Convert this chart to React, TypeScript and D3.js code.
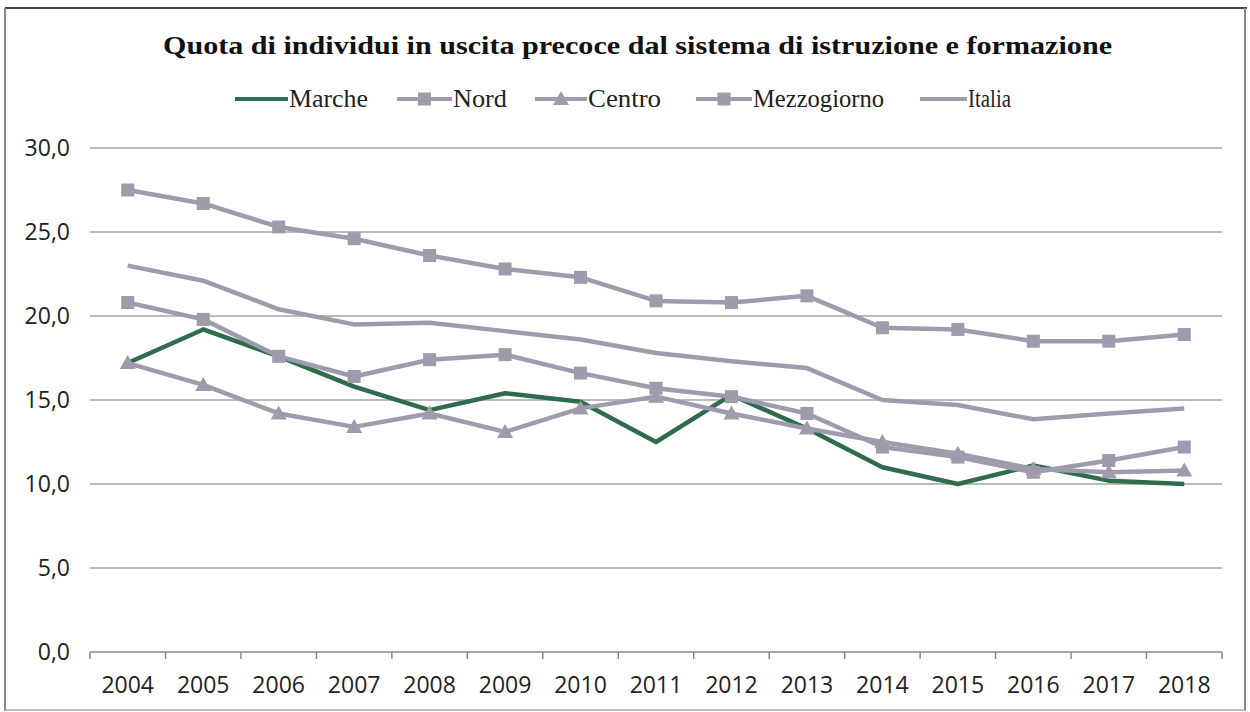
import React from "react";
import * as d3 from "d3";

const years = ["2004","2005","2006","2007","2008","2009","2010","2011","2012","2013","2014","2015","2016","2017","2018"];
const marche = [17.2, 19.2, 17.6, 15.8, 14.4, 15.4, 14.9, 12.5, 15.3, 13.3, 11.0, 10.0, 11.1, 10.2, 10.0];
const nord = [20.8, 19.8, 17.6, 16.4, 17.4, 17.7, 16.6, 15.7, 15.2, 14.2, 12.2, 11.6, 10.7, 11.4, 12.2];
const centro = [17.2, 15.9, 14.2, 13.4, 14.2, 13.1, 14.5, 15.2, 14.2, 13.3, 12.5, 11.8, 10.9, 10.7, 10.8];
const mezzogiorno = [27.5, 26.7, 25.3, 24.6, 23.6, 22.8, 22.3, 20.9, 20.8, 21.2, 19.3, 19.2, 18.5, 18.5, 18.9];
const italia = [23.0, 22.1, 20.4, 19.5, 19.6, 19.1, 18.6, 17.8, 17.3, 16.9, 15.0, 14.7, 13.85, 14.2, 14.5];
const yTicks = [0, 5, 10, 15, 20, 25, 30];
const title = "Quota di individui in uscita precoce dal sistema di istruzione e formazione";

const GREEN = "#2f6b4f";
const GRAY = "#9e9cac";

type Series = { name: string; values: number[]; color: string; marker: "none" | "square" | "triangle"; legX: number; legW: number; textW: number };
const series: Series[] = [
  { name: "Marche", values: marche, color: GREEN, marker: "none", legX: 235, legW: 53, textW: 79 },
  { name: "Nord", values: nord, color: GRAY, marker: "square", legX: 397, legW: 55, textW: 54 },
  { name: "Centro", values: centro, color: GRAY, marker: "triangle", legX: 535, legW: 52, textW: 73 },
  { name: "Mezzogiorno", values: mezzogiorno, color: GRAY, marker: "square", legX: 696, legW: 56, textW: 131 },
  { name: "Italia", values: italia, color: GRAY, marker: "none", legX: 920, legW: 47, textW: 43 },
];

function Marker({ kind, x, y, color }: { kind: string; x: number; y: number; color: string }) {
  if (kind === "square") return <rect x={x - 6.5} y={y - 6.5} width={13} height={13} fill={color} />;
  if (kind === "triangle") {
    const p = d3.path();
    p.moveTo(x, y - 8); p.lineTo(x + 8, y + 6); p.lineTo(x - 8, y + 6); p.closePath();
    return <path d={p.toString()} fill={color} />;
  }
  return null;
}

export default function App() {
  const W = 1250, H = 712;
  const left = 90, right = 1222, top = 148, bottom = 652;
  const x = d3.scaleBand<string>().domain(years).range([left, right]);
  const y = d3.scaleLinear().domain([0, 30]).range([bottom, top]);
  const cx = (yr: string) => (x(yr) as number) + x.bandwidth() / 2;
  const line = d3.line<number>().x((_, i) => cx(years[i])).y((v) => y(v));
  const boundaries = years.map((yr) => x(yr) as number).concat([right]);
  const sans = "'Open Sans', sans-serif";
  const serif = "'Liberation Serif', serif";

  return (
    <svg width={W} height={H} style={{ position: "absolute", left: 0, top: 0, background: "#fff" }}>
      <rect x={0} y={0} width={W} height={H} fill="#fff" />
      {/* frame */}
      <line x1={5} y1={8} x2={1247} y2={8} stroke="#444" strokeWidth={2} />
      <line x1={5} y1={8} x2={5} y2={711} stroke="#888" strokeWidth={2} />
      <line x1={1245} y1={8} x2={1245} y2={711} stroke="#888" strokeWidth={2} />
      <line x1={5} y1={710} x2={1245} y2={710} stroke="#aaa" strokeWidth={1.5} />

      <text x={163} y={54} fontFamily={serif} fontWeight="bold" fontSize={25} fill="#111" textLength={949} lengthAdjust="spacingAndGlyphs">{title}</text>

      {/* legend */}
      {series.map((s) => (
        <g key={s.name}>
          <line x1={s.legX} x2={s.legX + s.legW} y1={99} y2={99} stroke={s.color} strokeWidth={4} />
          <Marker kind={s.marker} x={s.legX + s.legW / 2} y={99} color={s.color} />
          <text x={s.legX + s.legW + 1} y={107} fontFamily={serif} fontSize={25} fill="#222" textLength={s.textW} lengthAdjust="spacingAndGlyphs">{s.name}</text>
        </g>
      ))}

      {/* gridlines & y labels */}
      {yTicks.map((t) => (
        <g key={t}>
          <line x1={left} x2={right} y1={y(t)} y2={y(t)} stroke={t === 0 ? "#8a8a8a" : "#a4a4a4"} strokeWidth={1.5} />
          <text x={70} y={y(t) + 8} textAnchor="end" fontFamily={sans} fontSize={23} fill="#222">{d3.format(".1f")(t).replace(".", ",")}</text>
        </g>
      ))}

      {/* x ticks */}
      {boundaries.map((bx, i) => (
        <line key={i} x1={bx} x2={bx} y1={bottom} y2={bottom + 7} stroke="#8a8a8a" strokeWidth={1.5} />
      ))}
      {years.map((yr) => (
        <text key={yr} x={cx(yr)} y={693} textAnchor="middle" fontFamily={sans} fontSize={23} fill="#222">{yr}</text>
      ))}

      {/* series */}
      {series.map((s) => (
        <g key={s.name}>
          <path d={line(s.values) as string} fill="none" stroke={s.color} strokeWidth={4.5} strokeLinejoin="round" />
          {s.values.map((v, i) => (
            <Marker key={i} kind={s.marker} x={cx(years[i])} y={y(v)} color={s.color} />
          ))}
        </g>
      ))}
    </svg>
  );
}
